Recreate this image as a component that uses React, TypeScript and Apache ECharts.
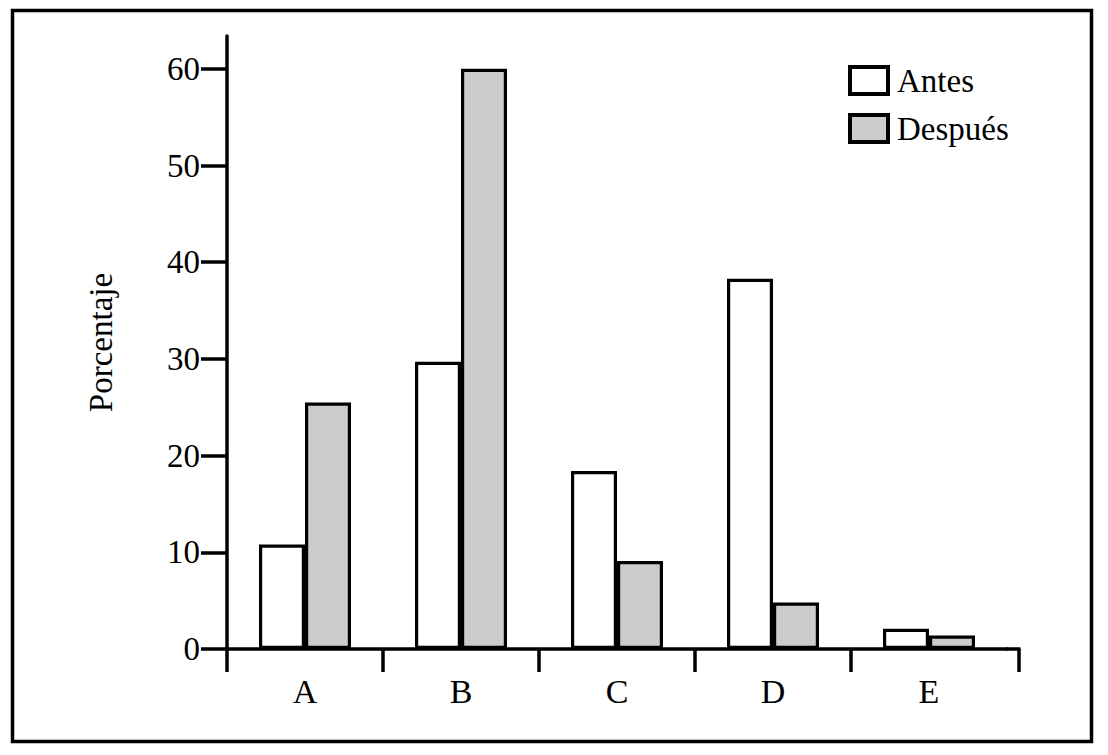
import React, { useEffect, useRef } from "react";
import * as echarts from "echarts";

const categories = ["A", "B", "C", "D", "E"];
const antes = [10.8, 29.7, 18.4, 38.3, 2.1];
const despues = [25.5, 60, 9.1, 4.8, 1.4];
const yTicks = [0, 10, 20, 30, 40, 50, 60];
const xBoundaryTicks = [0, 1, 2, 3, 4];

const FONT = "Liberation Serif";

export default function App() {
  const ref = useRef<HTMLDivElement>(null);
  useEffect(() => {
    document.body.style.margin = "0";
    const chart = echarts.init(ref.current!, undefined, { renderer: "svg" });
    const barStyle = (color: string) => ({
      color,
      borderColor: "#000",
      borderWidth: 3.2,
    });
    chart.setOption({
      animation: false,
      backgroundColor: "#fff",
      grid: { left: 227, top: 36, width: 780, bottom: 106, containLabel: false },
      legend: {
        orient: "vertical",
        left: 843,
        top: 59,
        itemWidth: 38,
        itemHeight: 27,
        itemGap: 15,
        icon: "rect",
        itemStyle: { borderColor: "#000", borderWidth: 4 },
        textStyle: { fontFamily: FONT, fontSize: 33, color: "#000", padding: [0, 0, 0, 4] },
        data: ["Antes", "Después"],
      },
      xAxis: [
        {
          type: "category",
          data: categories,
          axisLine: { lineStyle: { color: "#000", width: 3.5 } },
          axisTick: { show: false },
          axisLabel: { fontFamily: FONT, fontSize: 34, color: "#000", margin: 25 },
        },
        {
          type: "value",
          min: 0,
          max: 5,
          position: "bottom",
          axisLine: { show: false },
          splitLine: { show: false },
          axisLabel: { show: false },
          axisTick: {
            show: true,
            length: 23,
            customValues: xBoundaryTicks,
            lineStyle: { color: "#000", width: 3.5 },
          },
        },
      ],
      yAxis: {
        type: "value",
        min: 0,
        max: 63.4,
        interval: 10,
        name: "Porcentaje",
        nameLocation: "middle",
        nameGap: 110,
        nameRotate: 90,
        nameTextStyle: { fontFamily: FONT, fontSize: 33, color: "#000" },
        splitLine: { show: false },
        axisLine: { show: true, lineStyle: { color: "#000", width: 3.5 } },
        axisTick: { show: true, length: 26, customValues: yTicks, lineStyle: { color: "#000", width: 3.5 } },
        axisLabel: { fontFamily: FONT, fontSize: 33, color: "#000", margin: 27, customValues: yTicks },
      },
      series: [
        {
          name: "Antes",
          type: "bar",
          data: antes,
          barWidth: 46,
          barGap: "0%",
          itemStyle: barStyle("#ffffff"),
        },
        {
          name: "Después",
          type: "bar",
          data: despues,
          barWidth: 46,
          barGap: "0%",
          itemStyle: barStyle("#cccccc"),
        },
      ],
      graphic: [
        {
          type: "rect",
          shape: { x: 12.5, y: 10.5, width: 1079, height: 731 },
          style: { fill: "none", stroke: "#000", lineWidth: 3.5 },
          silent: true,
        },
        {
          type: "line",
          shape: { x1: 1006, y1: 649, x2: 1020.5, y2: 649 },
          style: { stroke: "#000", lineWidth: 3.5 },
          silent: true,
        },
        {
          type: "line",
          shape: { x1: 1019, y1: 649, x2: 1019, y2: 672 },
          style: { stroke: "#000", lineWidth: 3.5 },
          silent: true,
        },
      ],
    });
    return () => chart.dispose();
  }, []);
  return <div ref={ref} style={{ width: 1108, height: 755 }} />;
}
